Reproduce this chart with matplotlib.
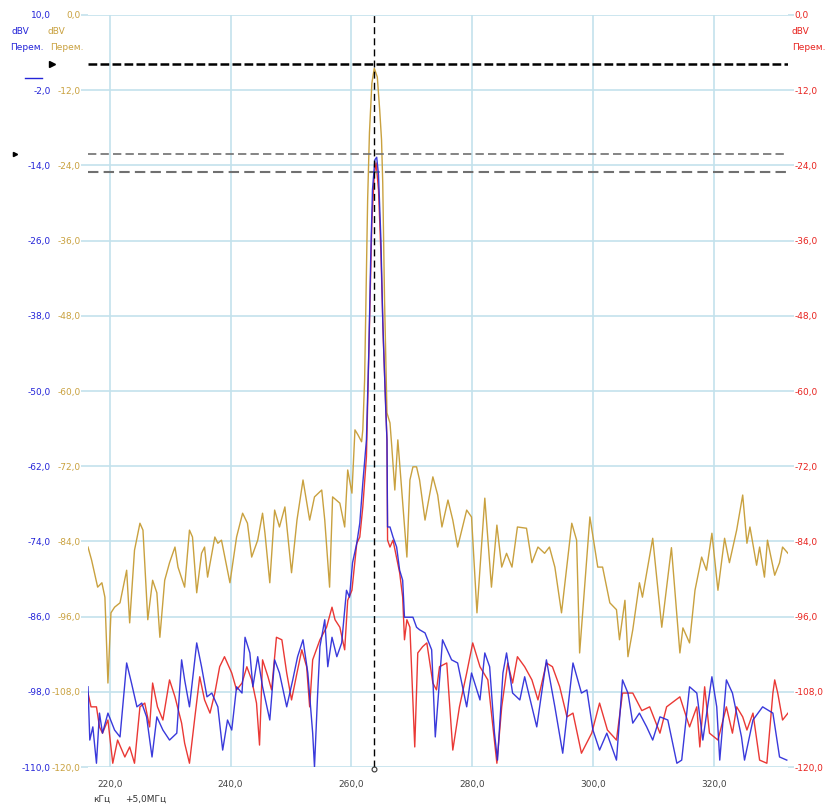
import numpy as np
import matplotlib.pyplot as plt
from matplotlib.ticker import FuncFormatter

# spectrum traces, frequency in kHz (offset +5.0 MHz), level in dBV
gold_khz = [216.4, 217.0, 218.0, 218.7, 219.2, 219.7, 220.2, 220.8, 221.7, 222.8, 223.3, 224.1, 225.0, 225.5,
            226.3, 227.1, 227.8, 228.3, 229.1, 229.9, 230.8, 231.3, 232.4, 233.2, 233.7, 234.4, 235.2, 235.7,
            236.2, 237.4, 237.9, 238.5, 239.9, 241.0, 242.0, 242.8, 243.5, 244.5, 245.3, 245.7, 246.5, 247.3,
            248.1, 249.0, 250.1, 251.0, 252.0, 253.1, 253.9, 255.1, 255.6, 256.4, 256.9, 258.1, 258.9, 259.4,
            260.1, 260.6, 261.1, 261.7, 261.9, 262.2, 262.7, 263.0, 263.4, 263.8, 264.3, 264.7, 265.0, 265.2,
            265.5, 265.9, 266.4, 266.7, 267.2, 267.7, 268.3, 269.2, 269.7, 270.2, 270.8, 271.3, 272.2, 273.5,
            274.3, 275.0, 276.0, 276.8, 277.6, 279.1, 279.9, 280.8, 282.1, 283.2, 284.1, 284.9, 285.7, 286.6,
            287.5, 289.0, 289.9, 290.9, 292.0, 292.8, 293.7, 294.8, 296.5, 297.3, 297.8, 299.5, 300.8, 301.6,
            302.8, 303.9, 304.4, 305.3, 305.8, 306.6, 307.7, 308.2, 309.9, 311.4, 313.0, 314.4, 314.9, 316.0,
            316.9, 318.0, 318.8, 319.7, 320.7, 321.8, 322.6, 323.8, 324.8, 325.5, 326.0, 327.1, 327.6, 328.4,
            328.9, 330.1, 330.9, 331.4, 332.3]
gold_dbv = [-84.9, -87.0, -91.3, -90.6, -92.9, -106.6, -95.4, -94.5, -93.8, -88.6, -97.0, -85.4, -81.1, -82.2,
            -96.5, -90.2, -92.2, -99.3, -90.2, -87.4, -84.9, -88.1, -91.3, -82.2, -83.3, -92.2, -85.9, -84.9,
            -89.7, -83.3, -84.3, -83.8, -90.6, -83.3, -79.5, -81.1, -86.5, -83.8, -79.5, -82.7, -90.6, -79.0,
            -81.7, -78.5, -89.0, -80.6, -74.2, -80.6, -76.9, -75.8, -80.6, -91.3, -76.9, -77.9, -81.7, -72.6,
            -76.3, -66.2, -67.0, -68.1, -66.2, -58.2, -29.5, -18.8, -10.9, -8.5, -9.9, -15.2, -19.9, -26.8,
            -45.5, -63.5, -65.1, -68.9, -75.8, -67.8, -75.3, -86.5, -74.2, -72.1, -72.1, -74.2, -80.6, -73.7,
            -76.6, -81.7, -77.4, -80.6, -84.9, -79.0, -80.1, -95.4, -77.1, -91.3, -81.4, -88.1, -85.9, -88.1,
            -81.7, -81.9, -87.4, -84.9, -85.9, -84.9, -88.1, -95.4, -81.1, -83.8, -101.8, -80.1, -88.1, -88.1,
            -93.8, -94.9, -99.7, -93.4, -102.4, -98.1, -90.6, -92.9, -83.5, -97.7, -85.0, -101.8, -97.8, -100.2,
            -91.8, -86.5, -88.6, -82.7, -91.8, -83.5, -87.4, -82.2, -76.6, -84.3, -81.7, -87.8, -84.9, -89.7,
            -83.8, -89.4, -87.4, -84.9, -85.9]

blue_khz = [216.4, 216.7, 217.2, 217.8, 218.3, 218.8, 219.7, 220.8, 221.7, 222.8, 223.6, 224.5, 225.3, 226.1,
            227.0, 227.8, 228.8, 229.9, 231.1, 231.9, 232.4, 233.2, 234.4, 235.2, 236.1, 236.9, 237.9, 238.7,
            239.5, 240.2, 241.0, 241.9, 242.4, 243.2, 243.7, 244.5, 245.3, 246.5, 247.3, 248.1, 249.3, 250.3,
            251.1, 252.0, 252.8, 253.6, 253.9, 254.4, 254.8, 255.6, 256.1, 256.8, 257.6, 258.4, 259.2, 259.7,
            260.2, 260.9, 261.4, 261.9, 262.5, 262.9, 263.2, 263.5, 263.9, 264.2, 264.5, 264.9, 265.2, 265.7,
            265.9, 266.0, 266.4, 266.9, 267.5, 268.0, 268.5, 268.8, 270.2, 270.8, 271.3, 272.2, 273.3, 273.9,
            275.1, 276.6, 277.6, 279.1, 279.9, 281.3, 282.1, 282.9, 283.7, 284.2, 285.1, 285.7, 286.7, 287.9,
            288.7, 290.7, 292.3, 293.7, 295.0, 296.7, 298.1, 299.0, 300.0, 301.1, 302.3, 303.9, 304.9, 305.8,
            306.6, 307.7, 308.9, 309.9, 311.1, 312.4, 313.9, 314.7, 316.0, 317.2, 318.2, 319.7, 320.5, 321.0,
            322.1, 323.1, 324.6, 325.1, 326.5, 328.1, 329.8, 330.9, 332.1]
blue_dbv = [-97.2, -105.7, -103.6, -109.4, -101.4, -104.6, -101.4, -104.1, -105.2, -93.4, -96.6, -100.4, -99.8,
            -102.0, -108.4, -102.0, -104.1, -105.7, -104.6, -92.9, -96.1, -100.4, -90.2, -94.0, -98.8, -98.2,
            -100.4, -107.3, -102.5, -104.1, -97.2, -98.2, -89.3, -91.8, -97.2, -92.4, -97.2, -102.5, -92.9,
            -95.0, -100.4, -96.1, -92.4, -89.7, -95.0, -104.6, -110.0, -98.8, -90.8, -86.5, -94.0, -89.3, -92.4,
            -90.2, -81.8, -82.9, -77.4, -74.3, -71.1, -64.7, -57.8, -43.5, -29.1, -17.9, -13.1, -12.7, -15.5,
            -25.9, -38.7, -53.0, -57.8, -71.7, -71.7, -73.3, -74.9, -78.6, -80.2, -86.1, -86.1, -87.7, -88.1,
            -88.6, -91.3, -105.2, -89.7, -92.9, -93.4, -100.4, -95.0, -99.3, -91.8, -94.0, -104.6, -108.9, -95.0,
            -91.8, -98.2, -99.3, -95.6, -103.6, -92.9, -100.4, -107.8, -93.4, -98.2, -97.7, -104.1, -107.3,
            -104.6, -108.9, -96.1, -98.2, -103.0, -101.4, -103.6, -105.7, -102.0, -102.5, -109.4, -108.9, -97.2,
            -98.2, -105.7, -95.6, -100.4, -108.9, -96.1, -98.2, -105.2, -108.9, -102.5, -100.4, -101.4, -108.4,
            -108.9]

red_khz = [216.4, 216.9, 217.8, 218.3, 218.8, 219.7, 220.5, 221.3, 222.5, 223.3, 224.1, 225.0, 225.8, 226.6,
           227.1, 227.9, 228.8, 229.9, 230.8, 231.9, 232.4, 233.2, 234.1, 234.9, 235.7, 236.6, 237.4, 238.2,
           239.0, 240.2, 241.0, 241.9, 242.7, 243.5, 244.3, 244.8, 245.3, 246.2, 246.8, 247.6, 248.5, 249.3,
           250.1, 251.0, 251.8, 252.6, 253.1, 253.6, 254.8, 255.9, 256.8, 257.3, 258.1, 258.9, 259.4, 260.1,
           260.9, 261.4, 261.9, 262.5, 263.0, 263.4, 263.8, 264.1, 264.5, 264.9, 265.3, 265.9, 266.0, 266.4,
           266.9, 268.0, 268.5, 268.8, 269.2, 269.7, 270.5, 271.0, 271.8, 272.5, 273.5, 274.1, 274.6, 275.8,
           276.8, 277.9, 279.1, 280.1, 281.3, 282.6, 284.1, 284.9, 285.9, 286.7, 287.5, 288.7, 289.9, 290.9,
           292.3, 293.3, 294.5, 295.7, 296.7, 298.1, 299.8, 301.1, 302.4, 303.9, 304.9, 306.6, 308.1, 309.4,
           311.1, 312.2, 314.4, 316.0, 317.2, 317.7, 318.5, 319.3, 320.7, 322.1, 323.1, 323.8, 324.8, 325.5,
           326.5, 327.6, 328.8, 329.8, 330.1, 330.6, 331.4, 332.3]
red_dbv = [-108.2, -110.4, -110.4, -113.6, -114.6, -112.5, -119.4, -115.7, -118.4, -116.8, -119.4, -110.4, -109.8,
           -113.6, -106.6, -110.4, -112.5, -106.1, -108.8, -113.0, -116.2, -119.4, -112.0, -105.6, -109.3, -111.4,
           -108.2, -104.0, -102.4, -105.0, -107.7, -106.6, -104.0, -106.1, -109.8, -116.5, -102.9, -105.6, -107.7,
           -99.3, -99.7, -105.0, -109.3, -105.0, -101.3, -104.0, -110.4, -102.9, -99.7, -97.7, -94.5, -96.5,
           -97.7, -101.3, -93.4, -91.8, -84.3, -83.3, -78.5, -70.5, -50.0, -33.0, -25.5, -23.6, -27.9, -38.0,
           -52.0, -67.8, -83.8, -84.9, -83.8, -89.0, -92.9, -99.7, -96.5, -97.7, -116.8, -101.8, -100.8, -100.2,
           -106.6, -107.7, -104.0, -103.4, -117.3, -110.4, -105.0, -100.2, -104.0, -106.1, -119.4, -110.4, -103.4,
           -106.6, -102.4, -104.0, -106.1, -109.3, -103.4, -104.0, -107.2, -112.0, -111.4, -117.8, -114.6, -109.8,
           -114.1, -115.7, -108.2, -108.2, -111.0, -110.4, -114.6, -110.4, -108.8, -113.6, -110.4, -116.8, -107.2,
           -114.6, -115.7, -110.4, -114.6, -110.4, -112.0, -114.1, -111.4, -118.9, -119.4, -108.2, -106.1, -108.2,
           -112.5, -111.4]

# cursors (gold/red scale) and marker frequency
cursor_levels = [-7.8, -22.2, -25.1]
marker_khz = 263.8

x_ticks = [220, 240, 260, 280, 300, 320]
gold_ticks = np.arange(-120, 1, 12)
blue_ticks = np.arange(-110, 11, 12)

GOLD = '#c9a13f'
BLUE = '#2424d8'
RED = '#e8231f'
GRID = '#c3e2ec'
FS = 6.5


def comma(v, pos=None):
    return ('%.1f' % v).replace('.', ',')


fig = plt.figure(figsize=(8.27, 8.05), dpi=100)
ax = fig.add_axes([88 / 827, 38 / 805, 700 / 827, 752 / 805])
axr = ax.twinx()
axb = ax.twinx()

ax.set_xlim(216.4, 332.3)
ax.set_ylim(-120, 0)
axr.set_ylim(-120, 0)
axb.set_ylim(-110, 10)

for a in (ax, axr, axb):
    for s in a.spines.values():
        s.set_visible(False)

ax.set_xticks(x_ticks)
ax.set_yticks(gold_ticks)
ax.xaxis.set_major_formatter(FuncFormatter(comma))
ax.yaxis.set_major_formatter(FuncFormatter(comma))
ax.grid(True, color=GRID, lw=1.2)
ax.set_axisbelow(True)
ax.tick_params(axis='y', length=5, color=GRID, width=1.2, labelcolor=GOLD, labelsize=FS, pad=0.5)
ax.tick_params(axis='x', length=0, labelcolor='#444444', labelsize=FS, pad=9)

axr.set_yticks(gold_ticks)
axr.yaxis.set_major_formatter(FuncFormatter(comma))
axr.tick_params(axis='y', length=4, color=GRID, width=1.2, labelcolor=RED, labelsize=FS, pad=0.5)

axb.set_yticks(blue_ticks)
axb.yaxis.set_major_formatter(FuncFormatter(comma))
axb.yaxis.set_ticks_position('left')
axb.yaxis.set_label_position('left')
axb.tick_params(axis='y', length=0, labelcolor=BLUE, labelsize=FS, pad=27)

# traces
ax.plot(gold_khz, gold_dbv, color=GOLD, lw=1.0)
axr.plot(red_khz, red_dbv, color=RED, lw=1.0, alpha=0.9)
axb.plot(blue_khz, blue_dbv, color=BLUE, lw=1.0, alpha=0.9)

# cursors
axr.axhline(cursor_levels[0], color='black', lw=1.8, dashes=(3.5, 1.3))
axr.axhline(cursor_levels[1], color='#707070', lw=1.2, dashes=(5, 2.5))
axr.axhline(cursor_levels[2], color='#707070', lw=1.5, dashes=(5, 2.5))
axb.axvline(marker_khz, color='black', lw=1.0, dashes=(5, 3))
axb.plot([marker_khz], [-110.3], 'o', mfc='white', mec='#333333', ms=3.5, mew=0.8, clip_on=False)

# reference markers left of the plot
tr = ax.get_yaxis_transform()
ax.plot([-0.051], [cursor_levels[0]], '>', color='black', ms=4, clip_on=False, transform=tr)
ax.plot([-0.104], [cursor_levels[1]], '>', color='black', ms=3, clip_on=False, transform=tr)
axb.plot([-0.09, -0.066], [0, 0], color=BLUE, lw=1.0, clip_on=False,
         transform=axb.get_yaxis_transform())

# unit labels
def ftext(x, y, s, color):
    fig.text(x / 827, 1 - y / 805, s, color=color, fontsize=FS, va='center', ha='left')

ftext(12, 32, 'dBV', BLUE)
ftext(10, 48, 'Перем.', BLUE)
ftext(47, 32, 'dBV', GOLD)
ftext(50, 48, 'Перем.', GOLD)
ftext(792, 32, 'dBV', RED)
ftext(792, 48, 'Перем.', RED)
ftext(93, 799, 'кГц', '#333333')
ftext(125, 799, '+5,0МГц', '#333333')

fig.savefig('out.png', dpi=100)
